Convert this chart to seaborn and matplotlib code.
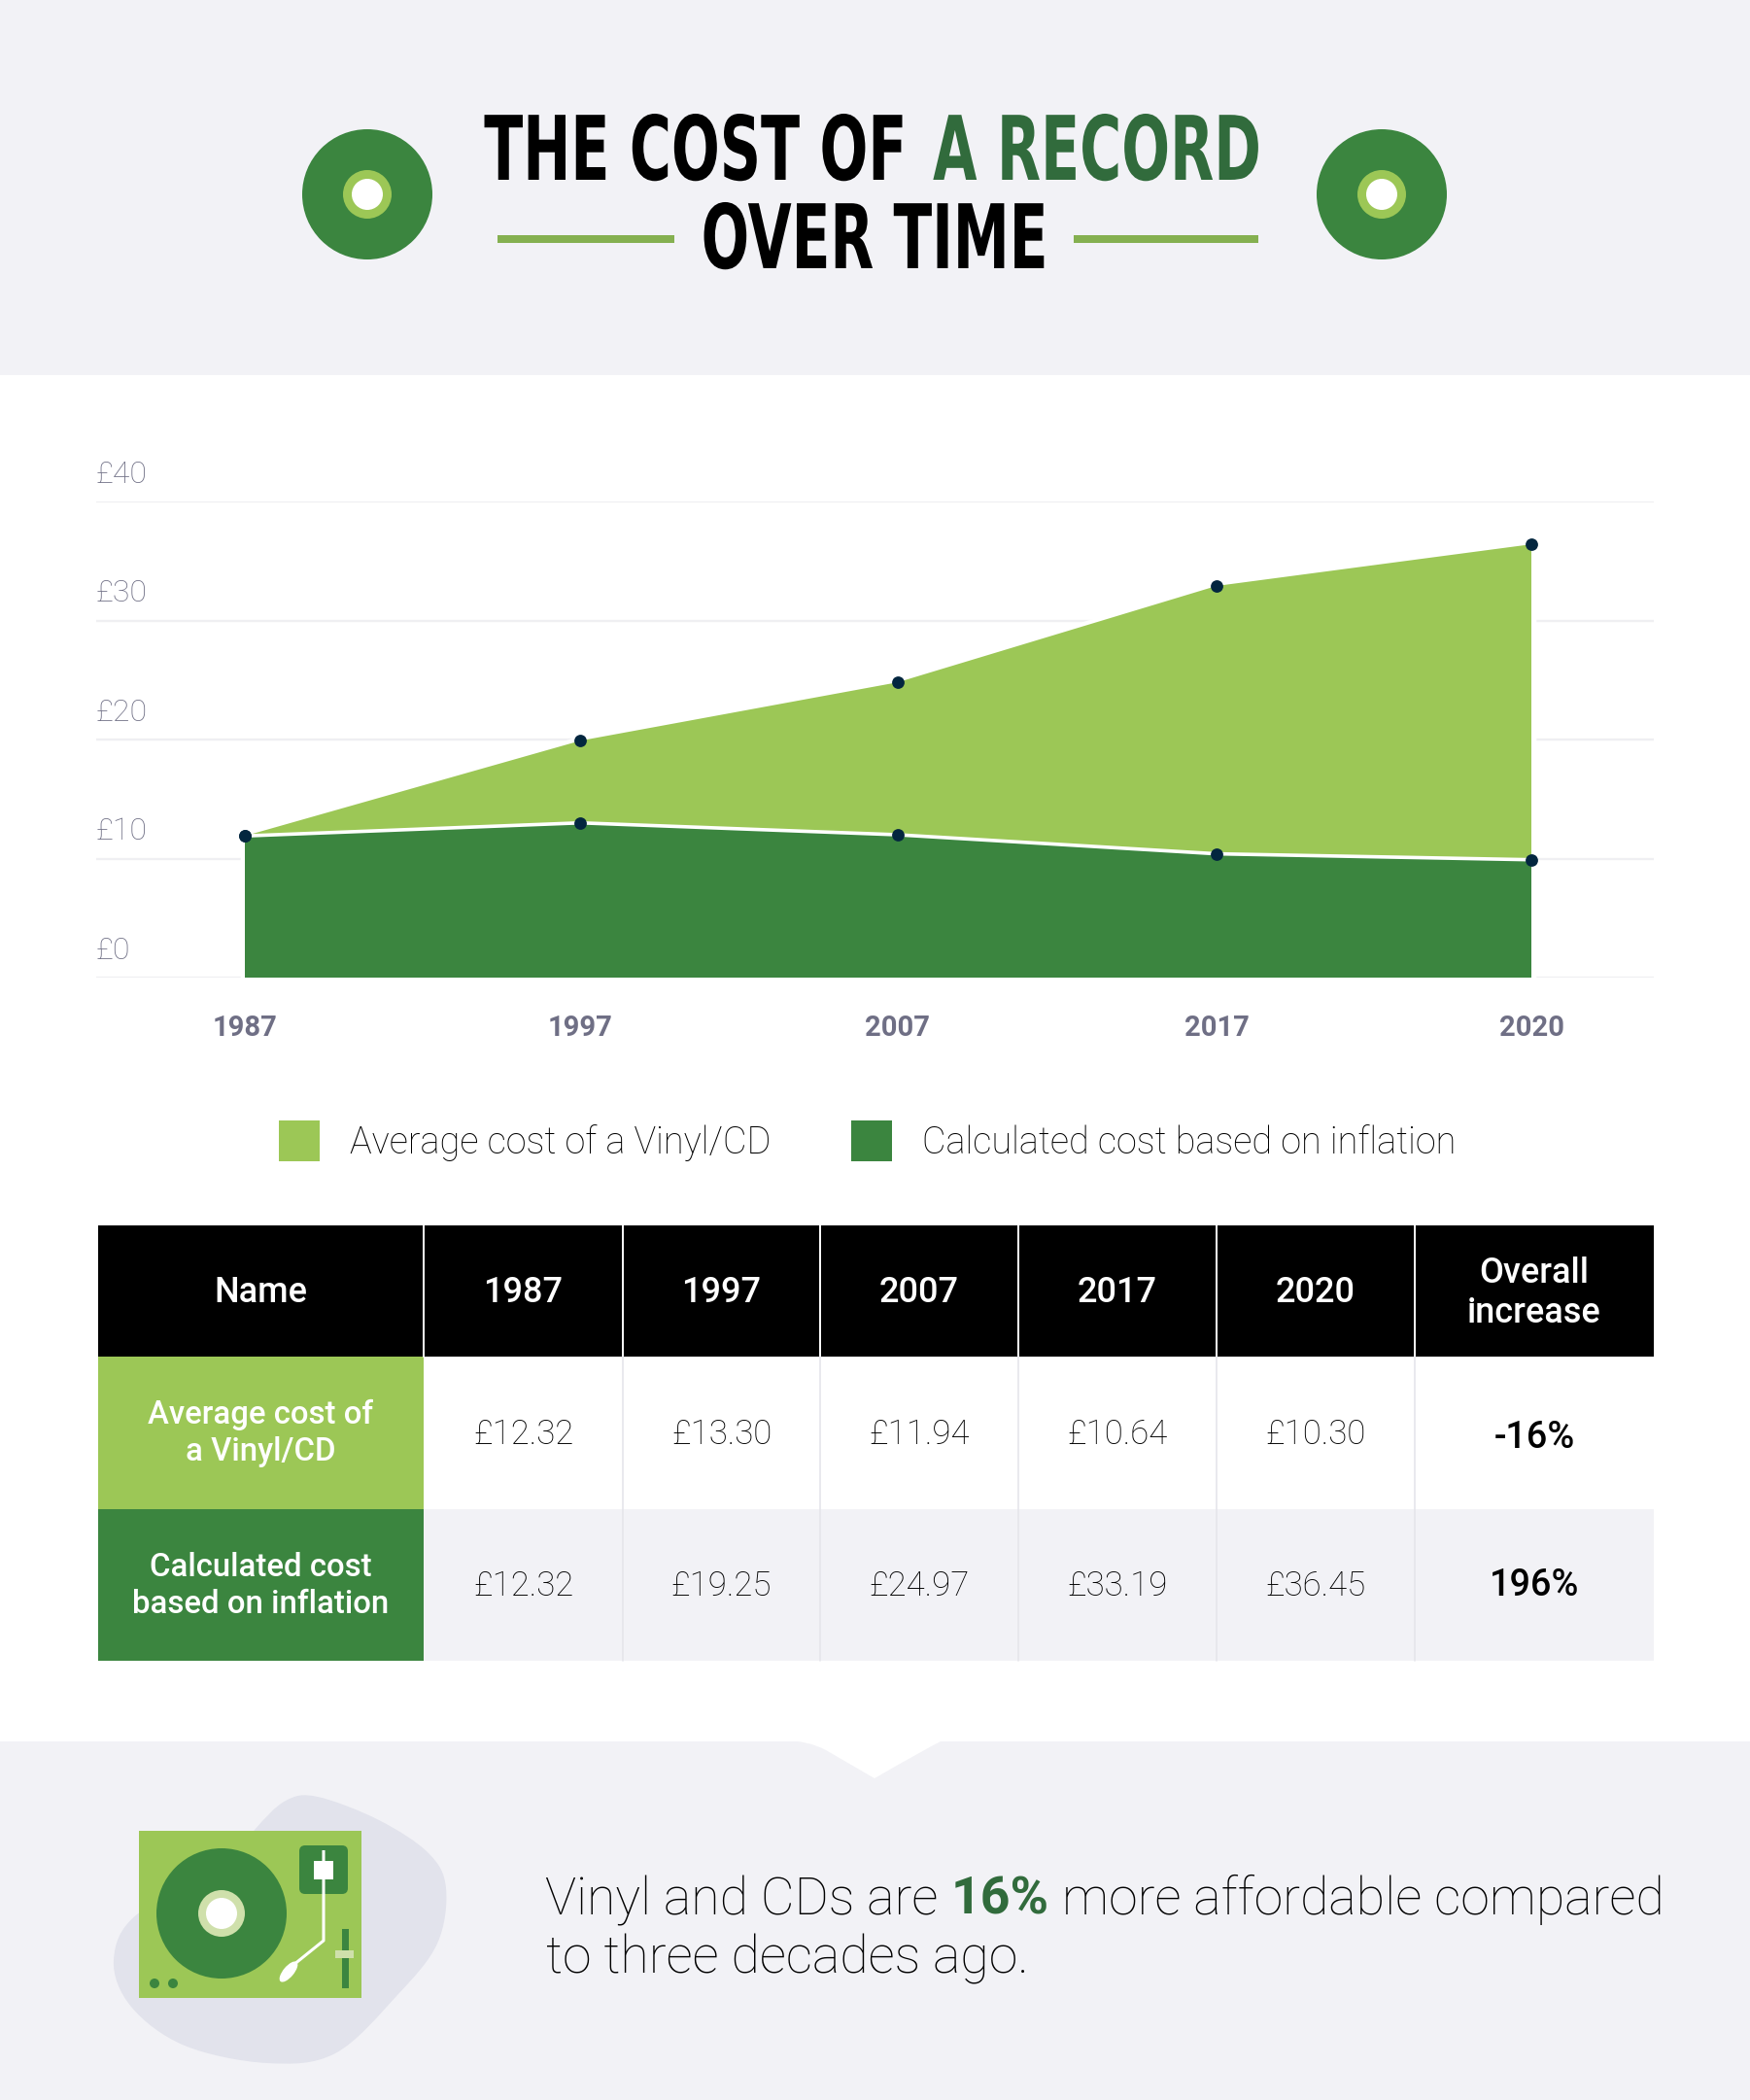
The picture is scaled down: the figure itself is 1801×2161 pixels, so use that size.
import numpy as np
import pandas as pd
import matplotlib
matplotlib.use("Agg")
import matplotlib.pyplot as plt
import matplotlib.patheffects as pe
from matplotlib.transforms import Affine2D
import seaborn as sns
from matplotlib.patches import Rectangle, Circle, Ellipse, FancyBboxPatch, PathPatch
from matplotlib.path import Path

# chart data
years = ["1987", "1997", "2007", "2017", "2020"]
avg_line = [11.9, 19.9, 24.8, 32.9, 36.4]
inflation_line = [11.9, 13.0, 12.0, 10.4, 9.9]
y_ticks = [0, 10, 20, 30, 40]
legend_labels = ["Average cost of a Vinyl/CD", "Calculated cost based on inflation"]

# table data
table_header = ["Name", "1987", "1997", "2007", "2017", "2020", "Overall\nincrease"]
row_names = ["Average cost of\na Vinyl/CD", "Calculated cost\nbased on inflation"]
row_avg = ["£12.32", "£13.30", "£11.94", "£10.64", "£10.30"]
row_calc = ["£12.32", "£19.25", "£24.97", "£33.19", "£36.45"]
row_increase = ["-16%", "196%"]

LIGHT = "#9cc756"
DARK = "#3b853f"
TITLE_GREEN = "#316b3c"
BAND = "#f2f2f6"
NAVY = "#03263f"
INK = "#000000"
BODY = ["Roboto", "DejaVu Sans"]

W, H = 1801, 2161
sns.set_theme(style="white")
plt.rcParams["font.family"] = BODY

fig = plt.figure(figsize=(W / 100, H / 100), dpi=100, facecolor="white")

# full page axes in pixel coordinates for the infographic parts
page = fig.add_axes([0, 0, 1, 1], zorder=0)
page.set_xlim(0, W)
page.set_ylim(H, 0)
page.axis("off")


class Squeeze(pe.AbstractPathEffect):
    # no condensed font is installed, so narrow the glyphs around a centre column
    def __init__(self, x0, sx):
        super().__init__()
        self.x0 = x0
        self.sx = sx

    def draw_path(self, renderer, gc, tpath, affine, rgbFace=None):
        squeeze = Affine2D().translate(-self.x0, 0).scale(self.sx, 1).translate(self.x0, 0)
        renderer.draw_path(gc, tpath, affine + squeeze, rgbFace)


def title_line(segments, center_x, baseline, size, sx):
    renderer = fig.canvas.get_renderer()
    items = []
    total = 0
    for txt, color, gap in segments:
        t = page.text(0, baseline, txt, color=color, fontsize=size, fontweight="bold",
                      family="DejaVu Sans", ha="left", va="baseline")
        t.set_path_effects([Squeeze(center_x, sx)])
        w = t.get_window_extent(renderer).width
        items.append((t, w, gap))
        total += w + gap
    x = center_x - total / 2
    for t, w, gap in items:
        t.set_x(x)
        x += w + gap


def smooth_closed(points):
    # closed catmull-rom turned into bezier segments
    pts = np.array(points, dtype=float)
    n = len(pts)
    verts = [pts[0]]
    codes = [Path.MOVETO]
    for i in range(n):
        p0, p1, p2, p3 = pts[i - 1], pts[i], pts[(i + 1) % n], pts[(i + 2) % n]
        verts += [p1 + (p2 - p0) / 6, p2 - (p3 - p1) / 6, p2]
        codes += [Path.CURVE4] * 3
    return Path(verts, codes)


# ---- header band ----
page.add_patch(Rectangle((0, 0), W, 386, fc=BAND, ec="none"))
for cx in (378, 1422):
    page.add_patch(Circle((cx, 200), 67, fc=DARK, ec="none"))
    page.add_patch(Circle((cx, 200), 25, fc=LIGHT, ec="none"))
    page.add_patch(Circle((cx, 200), 16, fc="white", ec="none"))

title_line([("THE COST OF", "black", 42), ("A RECORD", TITLE_GREEN, 0)], 898, 185, 66, 0.64)
title_line([("OVER TIME", "black", 0)], 900, 276, 66, 0.635)
page.add_patch(Rectangle((512, 242), 182, 8, fc="#85b050", ec="none"))
page.add_patch(Rectangle((1105, 242), 190, 8, fc="#85b050", ec="none"))

# ---- area chart ----
slots = [0, 1.043, 2.029, 3.021, 4]
left, right, top, bottom = 99, 1702, 516, 1006
ax = fig.add_axes([left / W, 1 - bottom / H, (right - left) / W, (bottom - top) / H], zorder=1)
ax.patch.set_alpha(0)
ax.set_xlim(-153 / 331, 4 + 126 / 331)
ax.set_ylim(0, 40)

df = pd.DataFrame({
    "slot": slots * 2,
    "cost": avg_line + inflation_line,
    "series": [legend_labels[0]] * 5 + [legend_labels[1]] * 5,
})

ax.fill_between(slots, 0, avg_line, fc="white", ec="white", lw=7, zorder=2)
ax.fill_between(slots, inflation_line, avg_line, fc=LIGHT, ec="none", zorder=3)
ax.fill_between(slots, 0, inflation_line, fc=DARK, ec="none", zorder=3)
sns.lineplot(data=df[df["series"] == legend_labels[1]], x="slot", y="cost", color="white",
             lw=2.6, ax=ax, zorder=4, legend=False, errorbar=None)
sns.scatterplot(data=df, x="slot", y="cost", color=NAVY, s=85, linewidth=0, ax=ax, zorder=5,
                legend=False, clip_on=False)

ax.set_xlabel("")
ax.set_ylabel("")
ax.set_yticks(y_ticks)
ax.set_yticklabels([])
ax.set_xticks(slots, labels=years)
ax.tick_params(axis="both", length=0)
ax.tick_params(axis="x", pad=27.5, labelsize=21, labelcolor="#6f6f85")
for lab in ax.get_xticklabels():
    lab.set_fontweight("bold")
ax.grid(axis="y", color="#efeff2", lw=1.7, zorder=1)
ax.set_axisbelow(True)
sns.despine(ax=ax, left=True, bottom=True, top=True, right=True)
for tick in y_ticks:
    ax.annotate(f"£{tick}", xy=(0, tick), xycoords=("axes fraction", "data"),
                xytext=(0, 9.5), textcoords="offset points", ha="left", va="bottom",
                fontsize=23, fontweight="light", color="#6f6f85")

# ---- legend ----
for x0, label, color in zip((287, 876), legend_labels, (LIGHT, DARK)):
    page.add_patch(Rectangle((x0, 1153), 42, 42, fc=color, ec="none"))
    page.text(x0 + 73, 1176, label, fontsize=27.3, fontweight="light", color=INK,
              ha="left", va="center")

# ---- table ----
col_edges = [101, 436, 641, 844, 1048, 1252, 1456, 1702]
page.add_patch(Rectangle((101, 1261), 1601, 135, fc="black", ec="none"))
page.add_patch(Rectangle((101, 1396), 335, 157, fc=LIGHT, ec="none"))
page.add_patch(Rectangle((101, 1553), 335, 156, fc=DARK, ec="none"))
page.add_patch(Rectangle((436, 1553), 1266, 156, fc=BAND, ec="none"))
for x in col_edges[1:-1]:
    page.plot([x, x], [1261, 1396], color="white", lw=1.4, zorder=3)
    if x > 436:
        page.plot([x, x], [1396, 1709], color="#e5e5eb", lw=1.2, zorder=3)

centers = [(a + b) / 2 for a, b in zip(col_edges[:-1], col_edges[1:])]
for cx, head in zip(centers, table_header):
    page.text(cx, 1331, head, color="white", fontsize=26, fontweight="medium",
              ha="center", va="center", linespacing=1.25, zorder=4)
for y, name in zip((1475, 1632), row_names):
    page.text(centers[0], y, name, color="white", fontsize=23.7, fontweight="medium",
              ha="center", va="center", linespacing=1.27, zorder=4)
for y, vals in zip((1476, 1632), (row_avg, row_calc)):
    for cx, val in zip(centers[1:6], vals):
        page.text(cx, y, val, color=INK, fontsize=25, fontweight="light",
                  ha="center", va="center", zorder=4)
for y, val in zip((1479, 1632), row_increase):
    page.text(centers[6], y, val, color="black", fontsize=27.3, fontweight="medium",
              ha="center", va="center", zorder=4)

# ---- bottom band with the notch ----
page.add_patch(Rectangle((0, 1792), W, H - 1792, fc=BAND, ec="none"))
notch = Path(
    [(805, 1791), (832, 1791), (850, 1801), (900, 1830), (950, 1801), (970, 1791), (995, 1791), (805, 1791)],
    [Path.MOVETO, Path.CURVE3, Path.CURVE3, Path.LINETO, Path.CURVE3, Path.CURVE3, Path.LINETO, Path.CLOSEPOLY],
)
page.add_patch(PathPatch(notch, fc="white", ec="none"))

blob = smooth_closed([(327, 1849), (390, 1873), (441, 1907), (459, 1943), (450, 2000), (409, 2053),
                      (345, 2113), (275, 2123), (190, 2105), (135, 2065), (117, 2017), (141, 1970),
                      (230, 1925), (262, 1883), (294, 1853)])
page.add_patch(PathPatch(blob, fc="#e2e3ec", ec="none"))

# turntable
PALE = "#cfe0ab"
page.add_patch(Rectangle((143, 1884), 229, 172, fc=LIGHT, ec="none"))
page.add_patch(Circle((228, 1969), 67, fc=DARK, ec="none"))
page.add_patch(Circle((228, 1969), 24, fc=PALE, ec="none"))
page.add_patch(Circle((228, 1969), 16, fc="white", ec="none"))
page.add_patch(FancyBboxPatch((312, 1903), 42, 42, boxstyle="round,pad=4,rounding_size=6", fc=DARK, ec="none"))
page.plot([333, 333, 302], [1904, 1997, 2022], color="white", lw=2.2, solid_capstyle="butt")
page.add_patch(Rectangle((323, 1915), 20, 19, fc="white", ec="none"))
page.add_patch(Ellipse((297, 2029), 11, 26, angle=40, fc="white", ec="none"))
page.add_patch(Rectangle((352, 1985), 7, 61, fc=DARK, ec="none"))
page.add_patch(Rectangle((345, 2007), 19, 8, fc=PALE, ec="none"))
for cx in (159, 178):
    page.add_patch(Circle((cx, 2041), 5, fc=DARK, ec="none"))

# bottom message
renderer = fig.canvas.get_renderer()
x = 561
for txt, color, weight, gap in (("Vinyl and CDs are", INK, "light", 13),
                                ("16%", TITLE_GREEN, "bold", 14),
                                ("more affordable compared", INK, "light", 0)):
    t = page.text(x, 1970, txt, color=color, fontsize=38.6, fontweight=weight, ha="left", va="baseline")
    x += t.get_window_extent(renderer).width + gap
page.text(562, 2030, "to three decades ago.", color=INK, fontsize=38.6, fontweight="light",
          ha="left", va="baseline")

fig.savefig("out.png", dpi=100)
